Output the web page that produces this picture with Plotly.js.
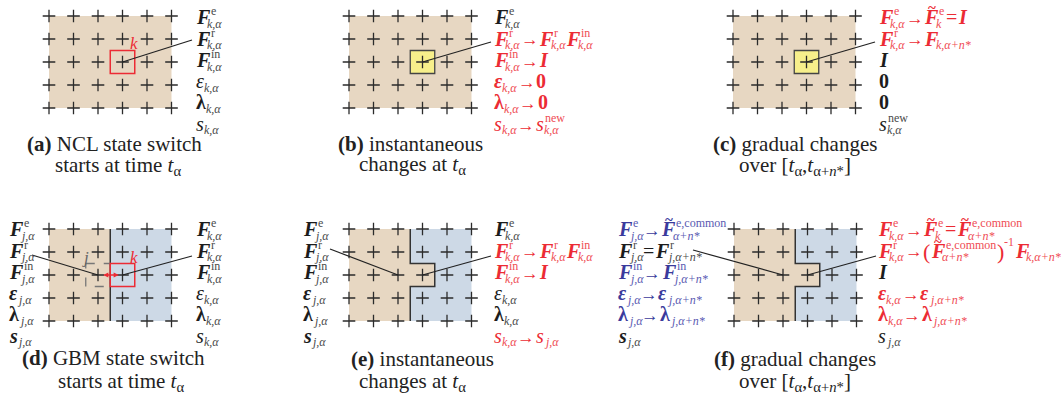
<!DOCTYPE html>
<html>
<head>
<meta charset="utf-8">
<script src="https://cdn.plot.ly/plotly-3.0.1.min.js"></script>
<style>
  html, body { margin: 0; padding: 0; background: #fff; }
  #fig { width: 1062px; height: 398px; }
</style>
</head>
<body>
<div id="fig"></div>
<script>
const W = 1062, H = 398;

// ---- grid of lattice sites drawn in every panel ----
const gridCols = [1, 2, 3, 4, 5, 6];
const gridRows = [1, 2, 3, 4, 5];
const panelIds = ['a', 'b', 'c', 'd', 'e', 'f'];

// ---- captions ----
const captionTags = ['(a)', '(b)', '(c)', '(d)', '(e)', '(f)'];
const captionLine1 = ['NCL state switch', 'instantaneous', 'gradual changes',
                      'GBM state switch', 'instantaneous', 'gradual changes'];
const captionLine2 = ['starts at time <i>t</i><sub>α</sub>',
                      'changes at <i>t</i><sub>α</sub>',
                      'over [<i>t</i><sub>α</sub>,<i>t</i><sub>α+<i>n</i>*</sub>]',
                      'starts at time <i>t</i><sub>α</sub>',
                      'changes at <i>t</i><sub>α</sub>',
                      'over [<i>t</i><sub>α</sub>,<i>t</i><sub>α+<i>n</i>*</sub>]'];

// ---- symbol builders for the state-variable labels ----
const F = (sup, sub) => ({ t: 'F', st: 'bi', sup, sub });
const FT = (sup, sub) => ({ t: 'F', st: 'bi', sup, sub, tilde: true });
const EPS = (sub, st) => ({ t: 'ε', st: st || 'i', sub, subk: 0 });
const LAM = sub => ({ t: 'λ', st: 'b', sub, subk: 0 });
const S = (sub, sup, st) => ({ t: 's', st: st || 'i', sub, sup, subk: 0, supk: 1 });
const II = { t: 'I', st: 'bi' };
const ZERO = { t: '0', st: 'b' };
const AR = { t: '→', st: 'r', size: 17.5, gap: 1 };
const EQ = { t: '=', st: 'r', size: 20, gap: 1 };
const LP = { t: '(', st: 'r', size: 22, dy: 2, gap: 0 };
const RP = { t: ')', st: 'r', size: 22, dy: 2, sup: '-1', supk: 0, supdy: -3, gap: 0.5 };

// label rows: [ink, tokens]
const labelsNclBefore = [
  ['k', [F('e', 'k,α')]], ['k', [F('r', 'k,α')]], ['k', [F('in', 'k,α')]],
  ['k', [EPS('k,α')]], ['k', [LAM('k,α')]], ['k', [S('k,α')]]
];
const labelsNclInstant = [
  ['k', [F('e', 'k,α')]],
  ['r', [F('r', 'k,α'), AR, F('r', 'k,α'), F('in', 'k,α')]],
  ['r', [F('in', 'k,α'), AR, II]],
  ['r', [EPS('k,α', 'bi'), AR, ZERO]],
  ['r', [LAM('k,α'), AR, ZERO]],
  ['r', [S('k,α'), AR, S('k,α', 'new')]]
];
const labelsNclGradual = [
  ['r', [F('e', 'k,α'), AR, FT('e', 'k'), EQ, II]],
  ['r', [F('r', 'k,α'), AR, F(null, 'k,α+n*')]],
  ['k', [II]], ['k', [ZERO]], ['k', [ZERO]],
  ['k', [S('k,α', 'new')]]
];
const labelsGbmJ = [
  ['k', [F('e', 'j,α')]], ['k', [F('r', 'j,α')]], ['k', [F('in', 'j,α')]],
  ['k', [EPS('j,α', 'bi')]], ['k', [LAM('j,α')]], ['k', [S('j,α', null, 'bi')]]
];
const labelsGbmInstant = [
  ['k', [F('e', 'k,α')]],
  ['r', [F('r', 'k,α'), AR, F('r', 'k,α'), F('in', 'k,α')]],
  ['r', [F('in', 'k,α'), AR, II]],
  ['k', [EPS('k,α')]], ['k', [LAM('k,α')]],
  ['r', [S('k,α'), AR, S('j,α')]]
];
const labelsGbmGradualJ = [
  ['b', [F('e', 'j,α'), AR, FT('e,common', 'α+n*')]],
  ['k', [F('r', 'j,α'), EQ, F('r', 'j,α+n*')]],
  ['b', [F('in', 'j,α'), AR, F('in', 'j,α+n*')]],
  ['b', [EPS('j,α', 'bi'), AR, EPS('j,α+n*', 'bi')]],
  ['b', [LAM('j,α'), AR, LAM('j,α+n*')]],
  ['k', [S('j,α', null, 'bi')]]
];
const labelsGbmGradualK = [
  ['r', [F('e', 'k,α'), AR, FT('e', 'k'), EQ, FT('e,common', 'α+n*')]],
  ['r', [F('r', 'k,α'), AR, LP, FT('e,common', 'α+n*'), RP, F(null, 'k,α+n*')]],
  ['k', [II]],
  ['r', [EPS('k,α', 'bi'), AR, EPS('j,α+n*', 'bi')]],
  ['r', [LAM('k,α'), AR, LAM('j,α+n*')]],
  ['k', [S('j,α')]]
];

// ---- layout geometry ----
const panelX0 = [49, 349, 733, 49, 349, 734];   // pixel x of first column
const panelY0 = [16, 16, 16, 229, 229, 229];    // pixel y of first row
const SX = 24.5, SY = 23;
const panelRegion = ['single', 'single', 'single', 'split', 'notch', 'notch'];
const panelMark = ['red', 'yellow', 'yellow', 'pair', 'none', 'none'];

const TAN = '#e7d7c2', BLUE = '#cdd9e6', YELLOW = '#f7ef8b', RED = '#ec2b34';
const INK = {
  k: { main: '#1c1c1c', sub: '#4a4a4a' },
  r: { main: '#ec2b34', sub: '#ef4c54' },
  b: { main: '#3a3a9c', sub: '#5a5ab2' }
};
const FONT = 'Liberation Serif, Times New Roman, serif';
const SUBSZ = 12, PITCH = 21.3;

const labelSets = [
  { rows: labelsNclBefore, x: 195, base: 24 },
  { rows: labelsNclInstant, x: 493, base: 24 },
  { rows: labelsNclGradual, x: 878, base: 24 },
  { rows: labelsGbmJ, x: 8, base: 236 },
  { rows: labelsNclBefore, x: 195, base: 236 },
  { rows: labelsGbmJ, x: 302, base: 236 },
  { rows: labelsGbmInstant, x: 493, base: 236 },
  { rows: labelsGbmGradualJ, x: 617, base: 236 },
  { rows: labelsGbmGradualK, x: 877, base: 236 }
];

// leader lines: lattice site -> label end point (px)
const leaders = [
  { p: 0, c: 4, r: 3, to: [192, 40] },
  { p: 1, c: 4, r: 3, to: [491, 42] },
  { p: 2, c: 4, r: 3, to: [875, 42] },
  { p: 3, c: 3, r: 3, to: [32, 255] },
  { p: 3, c: 4, r: 3, to: [192, 256] },
  { p: 4, c: 3, r: 3, to: [330, 249] },
  { p: 4, c: 4, r: 3, to: [491, 256] },
  { p: 5, c: 3, r: 3, to: [693, 250] },
  { p: 5, c: 4, r: 3, to: [876, 256] }
];

const captionPos = [
  { c1: 114, c2: 118, b1: 151, b2: 173 },
  { c1: 410, c2: 412, b1: 151, b2: 172 },
  { c1: 795, c2: 795, b1: 151, b2: 173 },
  { c1: 113, c2: 121, b1: 365, b2: 389 },
  { c1: 422, c2: 412, b1: 366, b2: 389 },
  { c1: 795, c2: 795, b1: 366, b2: 389 }
];

// ---- helpers ----
const P = x => x / W;
const Q = y => 1 - y / H;
const gx = (i, c) => panelX0[i] + (c - 1) * SX;
const gy = (i, r) => panelY0[i] + (r - 1) * SY;

const cnv = document.createElement('canvas');
const ctx = cnv.getContext('2d');
function measure(t, st, size) {
  ctx.font = (st.includes('i') ? 'italic ' : '') + (st.includes('b') ? 'bold ' : '') +
             size + 'px "Liberation Serif"';
  return ctx.measureText(t).width;
}

const layout = {
  width: W, height: H,
  margin: { l: 0, r: 0, t: 0, b: 0 },
  paper_bgcolor: '#ffffff', plot_bgcolor: 'rgba(0,0,0,0)',
  showlegend: false, hovermode: false,
  shapes: [], annotations: []
};
const traces = [];

// text placed by baseline (Liberation Serif: box centre sits 0.3375em above baseline)
function put(x, base, text, st, size, color, anchor) {
  layout.annotations.push({
    xref: 'paper', yref: 'paper', x: P(x), y: Q(base - 0.3375 * size),
    xanchor: anchor || 'left', yanchor: 'middle',
    text: text, showarrow: false, borderpad: 0,
    font: { family: FONT, size: size, color: color,
            weight: st.includes('b') ? 'bold' : 'normal',
            style: st.includes('i') ? 'italic' : 'normal' }
  });
}

function setRow(x, base, tokens, ink) {
  let cx = x;
  tokens.forEach(tk => {
    const size = tk.size || 20, st = tk.st || 'bi';
    const w = measure(tk.t, st, size);
    const b = base + (tk.dy || 0);
    put(cx, b, tk.t, st, size, ink.main);
    if (tk.tilde) put(cx + w / 2 + 2, base - 10.5, '~', 'b', 15, ink.main, 'center');
    let adv = w;
    if (tk.sup || tk.sub) {
      const ox = cx + w;
      let ws = 0, wb = 0;
      if (tk.sup) {
        const k = tk.supk ?? 1.5;
        put(ox + k, base - 8.5 + (tk.supdy || 0), tk.sup, 'r', SUBSZ, ink.sub);
        ws = measure(tk.sup, 'r', SUBSZ) + k;
      }
      if (tk.sub) {
        const k = tk.subk ?? -2;
        put(ox + k, base + 4, tk.sub, 'i', SUBSZ, ink.sub);
        wb = measure(tk.sub, 'i', SUBSZ) + k;
      }
      adv = w + Math.max(ws, wb);
    }
    cx += adv + (tk.gap ?? 1);
  });
}

// ---- panels: axes, lattice sites, regions ----
panelIds.forEach((id, i) => {
  const n = i + 1;
  const xa = n === 1 ? 'x' : 'x' + n, ya = n === 1 ? 'y' : 'y' + n;
  const x0 = panelX0[i], y0 = panelY0[i];
  layout[n === 1 ? 'xaxis' : 'xaxis' + n] = {
    domain: [P(x0 - 0.5 * SX), P(x0 + 5.5 * SX)], range: [0.5, 6.5],
    visible: false, fixedrange: true, anchor: ya
  };
  layout[n === 1 ? 'yaxis' : 'yaxis' + n] = {
    domain: [Q(y0 + 4.5 * SY), Q(y0 - 0.5 * SY)], range: [5.5, 0.5],
    visible: false, fixedrange: true, anchor: xa
  };

  const xs = [], ys = [];
  gridRows.forEach(r => gridCols.forEach(c => { xs.push(c); ys.push(r); }));
  traces.push({
    type: 'scatter', mode: 'markers', x: xs, y: ys, xaxis: xa, yaxis: ya,
    cliponaxis: false, hoverinfo: 'skip',
    marker: { symbol: 'cross-thin', size: 9, color: '#2b2b2b',
              line: { width: 1.3, color: '#2b2b2b' } }
  });

  const cMin = gridCols[0], cMax = gridCols[gridCols.length - 1];
  const rMin = gridRows[0], rMax = gridRows[gridRows.length - 1];
  const sh = o => layout.shapes.push(Object.assign({ xref: xa, yref: ya, layer: 'below' }, o));

  if (panelRegion[i] === 'single') {
    sh({ type: 'rect', x0: cMin, x1: cMax, y0: rMin, y1: rMax, fillcolor: TAN, line: { width: 0 } });
  } else if (panelRegion[i] === 'split') {
    sh({ type: 'rect', x0: cMin, x1: 3.5, y0: rMin, y1: rMax, fillcolor: TAN, line: { width: 0 } });
    sh({ type: 'rect', x0: 3.5, x1: cMax, y0: rMin, y1: rMax, fillcolor: BLUE, line: { width: 0 } });
    sh({ type: 'line', x0: 3.5, x1: 3.5, y0: rMin, y1: rMax, line: { color: '#333', width: 1.5 } });
  } else {
    sh({ type: 'path', fillcolor: TAN, line: { width: 0 },
         path: `M${cMin},${rMin}L3.5,${rMin}L3.5,2.5L4.5,2.5L4.5,3.5L3.5,3.5L3.5,${rMax}L${cMin},${rMax}Z` });
    sh({ type: 'path', fillcolor: BLUE, line: { width: 0 },
         path: `M3.5,${rMin}L${cMax},${rMin}L${cMax},${rMax}L3.5,${rMax}L3.5,3.5L4.5,3.5L4.5,2.5L3.5,2.5Z` });
    sh({ type: 'path', line: { color: '#333', width: 1.5 },
         path: `M3.5,${rMin}L3.5,2.5L4.5,2.5L4.5,3.5L3.5,3.5L3.5,${rMax}` });
  }

  if (panelMark[i] === 'red') {
    sh({ type: 'rect', x0: 3.5, x1: 4.5, y0: 2.5, y1: 3.5, line: { color: RED, width: 1.5 } });
    layout.annotations.push({ xref: xa, yref: ya, x: 4.45, y: 2.2, text: 'k', showarrow: false,
      font: { family: FONT, size: 17, color: RED, style: 'italic' } });
  } else if (panelMark[i] === 'yellow') {
    sh({ type: 'rect', x0: 3.5, x1: 4.5, y0: 2.5, y1: 3.5, fillcolor: YELLOW, line: { color: '#444', width: 1.3 } });
  } else if (panelMark[i] === 'pair') {
    sh({ type: 'rect', x0: 2.5, x1: 3.5, y0: 2.5, y1: 3.5, line: { color: '#777', width: 1.3, dash: 'dash' } });
    sh({ type: 'rect', x0: 3.5, x1: 4.5, y0: 2.5, y1: 3.5, line: { color: RED, width: 1.5 } });
    layout.annotations.push({ xref: xa, yref: ya, x: 2.5, y: 2.25, text: 'j', showarrow: false,
      font: { family: FONT, size: 17, color: '#666', style: 'italic' } });
    layout.annotations.push({ xref: xa, yref: ya, x: 4.45, y: 2.25, text: 'k', showarrow: false,
      font: { family: FONT, size: 17, color: RED, style: 'italic' } });
    // exchange arrow between j and k
    layout.annotations.push({ xref: xa, yref: ya, x: 3.85, y: 3, ax: 3.15, ay: 3,
      axref: xa, ayref: ya, text: '', showarrow: true, arrowside: 'end+start',
      arrowhead: 2, startarrowhead: 2, arrowsize: 0.8, startarrowsize: 0.8,
      arrowwidth: 1.3, arrowcolor: RED, standoff: 0, startstandoff: 0 });
  }

  // captions
  const cp = captionPos[i];
  layout.annotations.push({ xref: 'paper', yref: 'paper', x: P(cp.c1), y: Q(cp.b1 - 0.3375 * 21),
    xanchor: 'center', yanchor: 'middle', showarrow: false, borderpad: 0,
    text: '<b>' + captionTags[i] + '</b> ' + captionLine1[i],
    font: { family: FONT, size: 21, color: '#222' } });
  layout.annotations.push({ xref: 'paper', yref: 'paper', x: P(cp.c2), y: Q(cp.b2 - 0.3375 * 21),
    xanchor: 'center', yanchor: 'middle', showarrow: false, borderpad: 0,
    text: captionLine2[i], font: { family: FONT, size: 21, color: '#222' } });
});

// leader lines
leaders.forEach(l => {
  layout.shapes.push({ type: 'line', xref: 'paper', yref: 'paper', layer: 'above',
    x0: P(gx(l.p, l.c)), y0: Q(gy(l.p, l.r)), x1: P(l.to[0]), y1: Q(l.to[1]),
    line: { color: '#222', width: 1.2 } });
});

// state-variable labels
labelSets.forEach(set => {
  set.rows.forEach((row, k) => {
    setRow(set.x, set.base + k * PITCH, row[1], INK[row[0]]);
  });
});

Plotly.newPlot('fig', traces, layout, { staticPlot: true, displayModeBar: false });
</script>
</body>
</html>
